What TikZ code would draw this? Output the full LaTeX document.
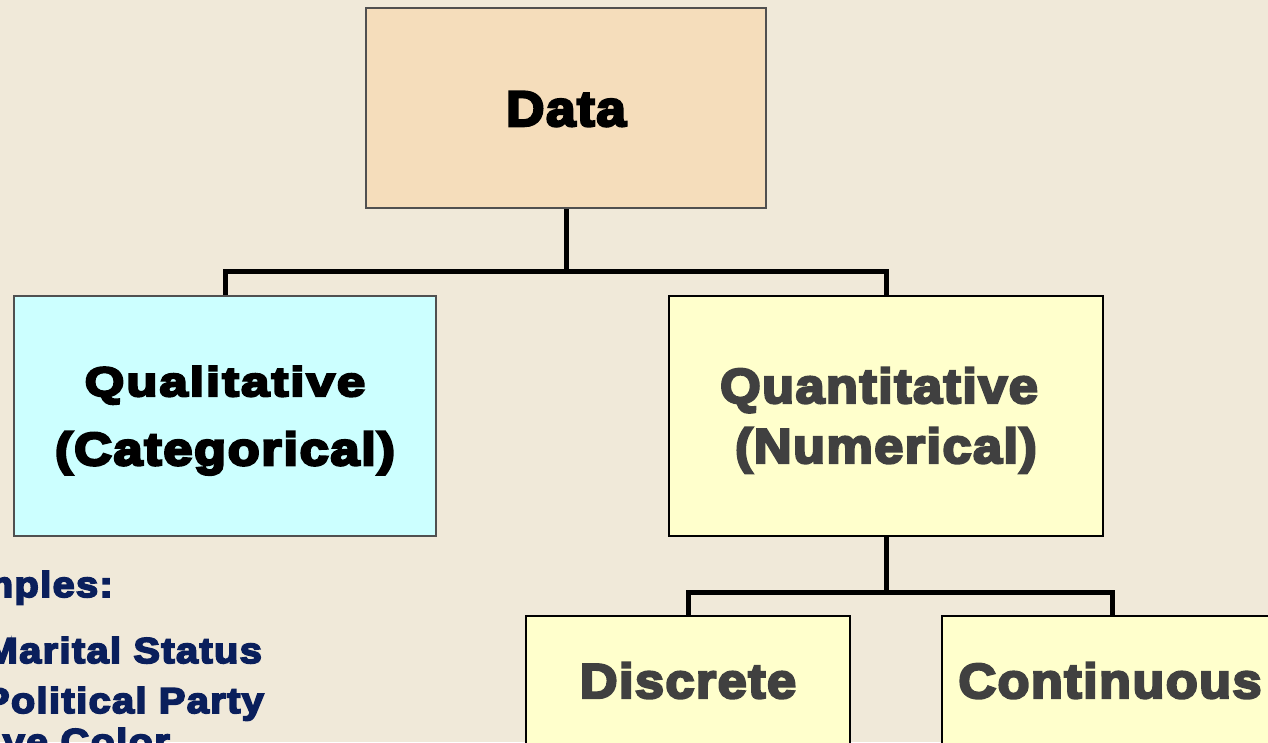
\documentclass[tikz,border=0pt]{standalone}
\usepackage{fontspec}
\setmainfont{Liberation Sans}
\newfontfamily\fwide[FakeStretch=1.24,FakeBold=6,LetterSpace=5]{Liberation Sans Bold}
\newfontfamily\fcat[FakeStretch=1.13,FakeBold=6,LetterSpace=4]{Liberation Sans Bold}
\newfontfamily\ftall[FakeStretch=1.065,FakeBold=5,LetterSpace=3]{Liberation Sans Bold}
\newfontfamily\fex[FakeStretch=1.10,FakeBold=5,LetterSpace=4]{Liberation Sans Bold}
\definecolor{bg}{HTML}{F0E9D9}
\definecolor{datafill}{HTML}{F5DDBB}
\definecolor{qualfill}{HTML}{CCFFFF}
\definecolor{quantfill}{HTML}{FFFFCC}
\definecolor{graybord}{HTML}{505050}
\definecolor{darktext}{HTML}{404040}
\definecolor{navy}{HTML}{0A1F5C}
\tikzset{
  box/.style={draw, line width=2pt, rectangle, inner sep=0pt},
  conn/.style={draw=black, line width=5pt},
  lbl/.style={anchor=base, inner sep=0pt},
  ex/.style={anchor=base east, inner sep=0pt, text=navy, font=\fex\fontsize{36}{40}\selectfont}
}
\begin{document}
\begin{tikzpicture}[x=1pt,y=-1pt]
\fill[bg] (0,0) rectangle (1268,742);
\useasboundingbox (0,0) rectangle (1268,742);
\clip (0,0) rectangle (1268,742);
% boxes
\node[box, draw=graybord, fill=datafill, minimum width=400pt, minimum height=200pt] (data) at (566,108) {};
\node[box, draw=graybord, fill=qualfill, minimum width=422pt, minimum height=240pt] (qual) at (225,416) {};
\node[box, draw=black, fill=quantfill, minimum width=434pt, minimum height=240pt] (quant) at (886,416) {};
\node[box, draw=black, fill=quantfill, minimum width=324pt, minimum height=240pt] (disc) at (688,736) {};
\node[box, draw=black, fill=quantfill, minimum width=340pt, minimum height=240pt] (cont) at (1112,736) {};
% connectors
\coordinate (j1) at (566,271);
\coordinate (j2) at (886,592);
\draw[conn] (data.south) -- (j1);
\draw[conn] (j1) -| (qual.north);
\draw[conn] (j1) -| (quant.north);
\draw[conn] (quant.south) -- (j2);
\draw[conn] (j2) -| (disc.north);
\draw[conn] (j2) -| (cont.north);
% labels
\node[lbl, font=\ftall\fontsize{50}{56}\selectfont] (tdata) at (566,126) {Data};
\node[lbl, font=\fwide\fontsize{41}{46}\selectfont] (tqual1) at (225,396) {Qualitative};
\node[lbl, font=\fcat\fontsize{46}{52}\selectfont] (tqual2) at (225,465) {(Categorical)};
\node[lbl, text=darktext, font=\ftall\fontsize{49}{54}\selectfont] (tquant1) at (879,403) {Quantitative};
\node[lbl, text=darktext, font=\ftall\fontsize{49}{54}\selectfont] (tquant2) at (886,463) {(Numerical)};
\node[lbl, text=darktext, font=\ftall\fontsize{49}{54}\selectfont] (tdisc) at (688,698) {Discrete};
\node[lbl, text=darktext, font=\ftall\fontsize{49}{54}\selectfont] (tcont) at (1110,698) {Continuous};
% examples
\node[ex] (ex0) at (113,597) {Examples:};
\node[ex] (ex1) at (262,663) {Marital Status};
\node[ex] (ex2) at (264,713) {Political Party};
\node[ex] (ex3) at (170,754) {Eye Color};
\end{tikzpicture}
\end{document}
